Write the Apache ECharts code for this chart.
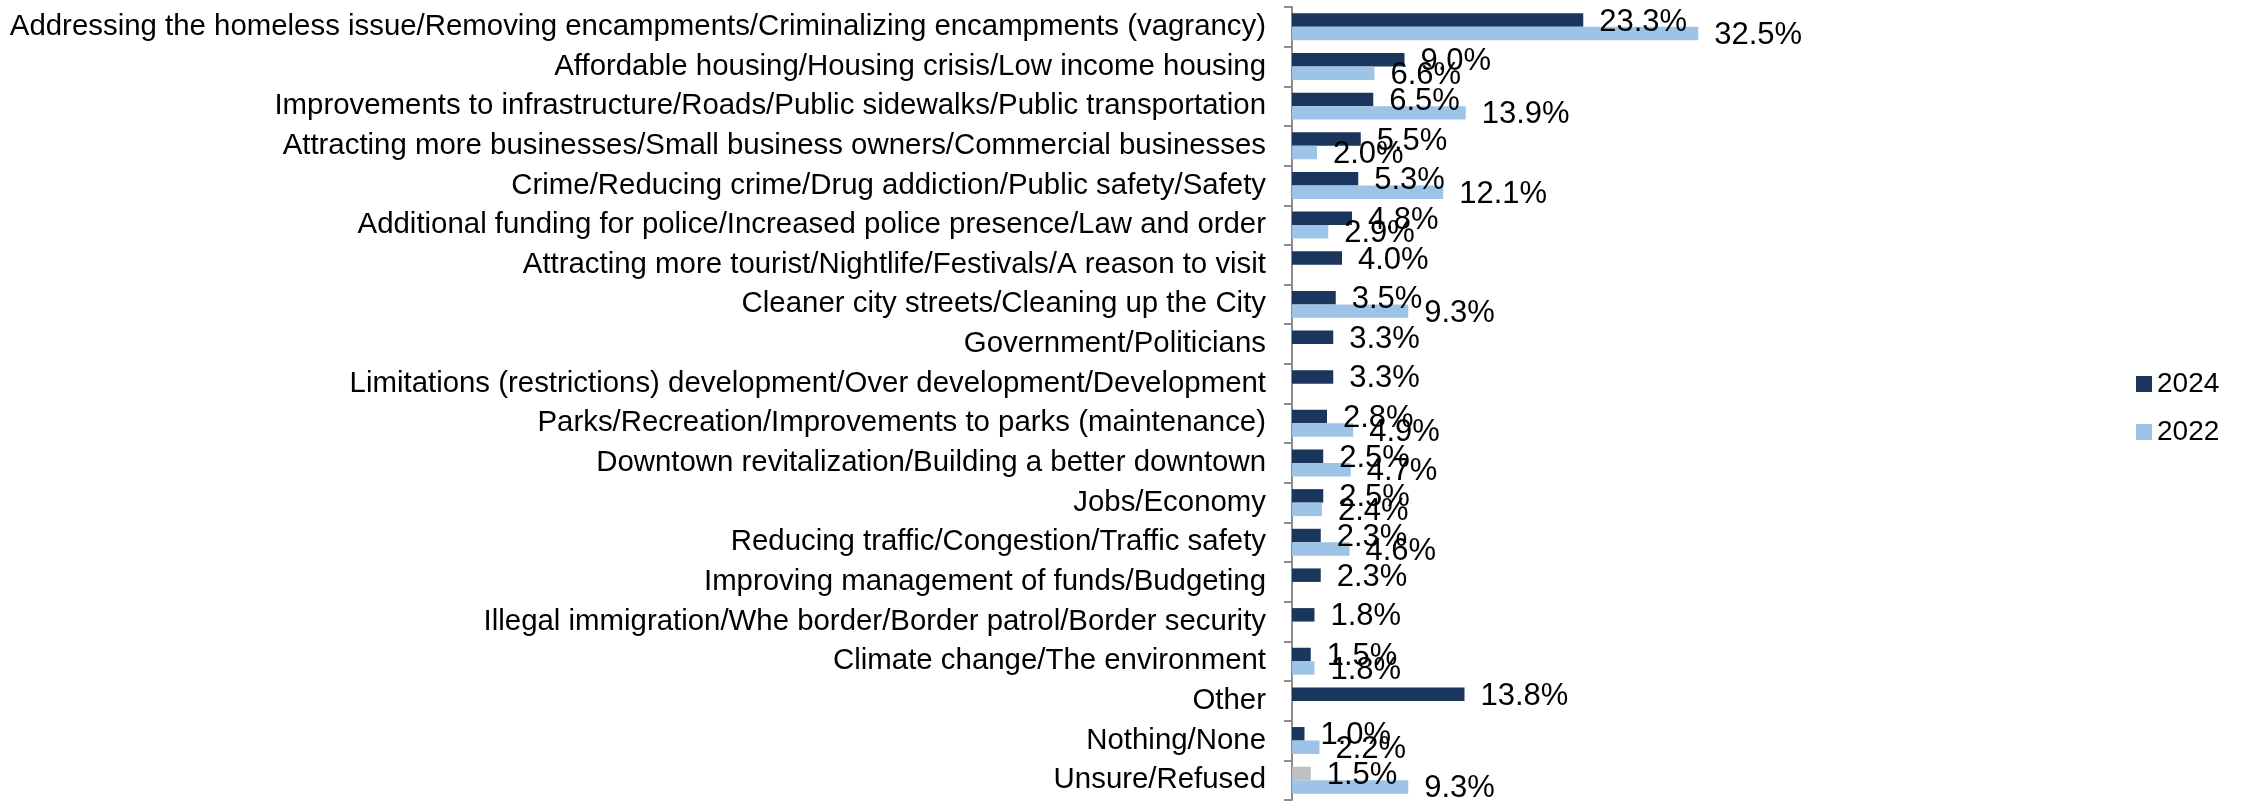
<!DOCTYPE html>
<html>
<head>
<meta charset="utf-8">
<script src="https://cdn.jsdelivr.net/npm/echarts@6/dist/echarts.min.js"></script>
<style>
  html, body { margin: 0; padding: 0; background: #fff; }
  #main { width: 2246px; height: 801px; }
</style>
</head>
<body>
<div id="main"></div>
<script>
const categories = [
  'Addressing the homeless issue/Removing encampments/Criminalizing encampments (vagrancy)',
  'Affordable housing/Housing crisis/Low income housing',
  'Improvements to infrastructure/Roads/Public sidewalks/Public transportation',
  'Attracting more businesses/Small business owners/Commercial businesses',
  'Crime/Reducing crime/Drug addiction/Public safety/Safety',
  'Additional funding for police/Increased police presence/Law and order',
  'Attracting more tourist/Nightlife/Festivals/A reason to visit',
  'Cleaner city streets/Cleaning up the City',
  'Government/Politicians',
  'Limitations (restrictions) development/Over development/Development',
  'Parks/Recreation/Improvements to parks (maintenance)',
  'Downtown revitalization/Building a better downtown',
  'Jobs/Economy',
  'Reducing traffic/Congestion/Traffic safety',
  'Improving management of funds/Budgeting',
  'Illegal immigration/Whe border/Border patrol/Border security',
  'Climate change/The environment',
  'Other',
  'Nothing/None',
  'Unsure/Refused'
]
const values2024 = [23.3, 9.0, 6.5, 5.5, 5.3, 4.8, 4.0, 3.5, 3.3, 3.3, 2.8, 2.5, 2.5, 2.3, 2.3, 1.8, 1.5, 13.8, 1.0, 1.5]
const values2022 = [32.5, 6.6, 13.9, 2.0, 12.1, 2.9, null, 9.3, null, null, 4.9, 4.7, 2.4, 4.6, null, null, 1.8, null, 2.2, 9.3]

const dark = '#1b365d'
const light = '#9dc3e6'
const grey = '#bfbfbf'
const font = 'Liberation Sans, Arial, sans-serif'

const data2024 = values2024.map((v, i) => {
  // last category is drawn grey in the source
  if (i === values2024.length - 1) return { value: v, itemStyle: { color: grey } }
  return v
})

const labelStyle = {
  show: true,
  position: 'right',
  distance: 16,
  offset: [0, 2],
  fontFamily: font,
  fontSize: 31,
  color: '#000',
  formatter: p => p.value == null ? '' : p.value.toFixed(1) + '%'
}

const chart = echarts.init(document.getElementById('main'))
const option = {
  animation: false,
  textStyle: { fontFamily: font },
  legend: {
    orient: 'vertical',
    left: 2131,
    top: 365,
    itemWidth: 16,
    itemHeight: 16,
    itemGap: 20,
    icon: 'rect',
    textStyle: { fontSize: 28, lineHeight: 28, color: '#000', fontFamily: font },
    data: ['2024', '2022']
  },
  grid: {
    left: 1292,
    top: 7,
    bottom: 1,
    width: 750
  },
  xAxis: {
    type: 'value',
    min: 0,
    max: 60,
    show: false
  },
  yAxis: {
    type: 'category',
    inverse: true,
    data: categories,
    axisLine: { show: true, lineStyle: { color: '#8c8c8c', width: 2 } },
    axisTick: { show: true, length: 8, lineStyle: { color: '#8c8c8c', width: 2 } },
    axisLabel: { fontSize: 29.4, color: '#000', fontFamily: font, margin: 26 }
  },
  series: [
    {
      name: '2024',
      type: 'bar',
      data: data2024,
      barCategoryGap: '32%',
      barGap: '0%',
      itemStyle: { color: dark },
      label: labelStyle
    },
    {
      name: '2022',
      type: 'bar',
      data: values2022,
      barCategoryGap: '32%',
      barGap: '0%',
      itemStyle: { color: light },
      label: labelStyle
    }
  ]
}
chart.setOption(option)
</script>
</body>
</html>
